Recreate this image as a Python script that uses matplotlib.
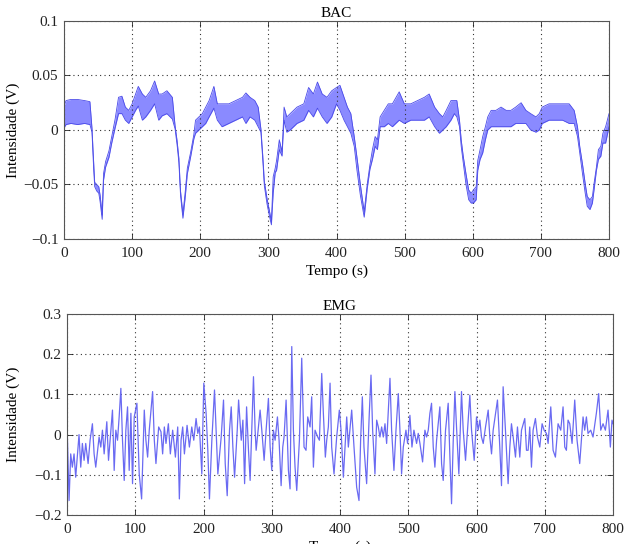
import matplotlib
matplotlib.use('Agg')
import matplotlib.pyplot as plt

plt.rcParams['font.family'] = ['Liberation Serif', 'DejaVu Serif']
plt.rcParams['axes.unicode_minus'] = True

# BAC signal: time, upper and lower edge of the fast oscillation band (V)
bac_t = [0, 3, 10, 20, 30, 38, 41, 43.5, 45, 48, 51, 53, 56, 58, 61, 66, 70, 75, 80, 85,
         90, 95, 100, 105, 109, 115, 120, 127, 133, 139, 144, 151, 159, 163, 166, 168.6, 171,
         174.5, 178, 181, 186, 190.6, 193, 198, 203, 208, 213, 220, 225, 232, 242, 252, 262,
         267, 273, 280, 285, 289, 292, 294, 298, 301.5, 304.4, 307, 310, 312, 316, 320, 321,
         323, 327, 332, 342, 352, 359, 366, 372, 379, 386, 393, 400, 405, 411, 416, 421, 426,
         430, 435, 440.6, 445, 449, 452.7, 456.7, 460, 464, 470, 476, 482, 492, 499.5, 509,
         519, 529, 536, 544, 551, 556, 561, 568, 573, 576.6, 580.5, 583, 586, 590, 594, 597.6,
         601, 605, 607.3, 610.7, 614.6, 618.5, 622, 627, 634, 641.5, 649, 656, 663, 671, 678,
         685, 692.7, 697.6, 702, 712, 722, 731.7, 741.5, 748.8, 753.7, 757, 761, 765, 768, 772,
         775.6, 778, 781.5, 784.4, 788, 791, 795, 800]
bac_hi = [0.022, 0.027, 0.028, 0.028, 0.027, 0.026, 0.002, -0.030, -0.048, -0.050, -0.052,
          -0.060, -0.078, -0.040, -0.029, -0.019, -0.006, 0.010, 0.030, 0.031, 0.021, 0.018,
          0.024, 0.033, 0.040, 0.033, 0.030, 0.036, 0.045, 0.033, 0.033, 0.036, 0.030, 0.004,
          -0.010, -0.026, -0.056, -0.077, -0.056, -0.035, -0.020, -0.004, 0.009, 0.012, 0.015,
          0.021, 0.027, 0.040, 0.024, 0.024, 0.024, 0.027, 0.030, 0.034, 0.030, 0.027, 0.021,
          0.001, -0.026, -0.047, -0.063, -0.074, -0.084, -0.043, -0.035, -0.028, -0.009, -0.020,
          -0.008, 0.021, 0.012, 0.015, 0.021, 0.024, 0.039, 0.033, 0.044, 0.033, 0.030, 0.036,
          0.039, 0.041, 0.030, 0.021, 0.015, -0.006, -0.025, -0.050, -0.075, -0.050, -0.032,
          -0.018, -0.006, -0.009, 0.012, 0.018, 0.024, 0.024, 0.035, 0.024, 0.024, 0.027, 0.030,
          0.033, 0.021, 0.015, 0.012, 0.018, 0.027, 0.027, 0.027, 0.009, -0.009, -0.024, -0.040,
          -0.055, -0.058, -0.055, -0.052, -0.028, -0.018, -0.006, 0.003, 0.012, 0.018, 0.018,
          0.021, 0.018, 0.018, 0.021, 0.025, 0.018, 0.015, 0.012, 0.015, 0.021, 0.024, 0.024,
          0.024, 0.024, 0.018, 0.003, -0.015, -0.031, -0.049, -0.061, -0.064, -0.061, -0.049,
          -0.034, -0.018, -0.015, -0.003, 0.003, 0.015]
bac_lo = [0.002, 0.005, 0.006, 0.005, 0.006, 0.005, -0.002, -0.036, -0.052, -0.056, -0.058,
          -0.066, -0.082, -0.046, -0.034, -0.025, -0.012, 0.002, 0.015, 0.015, 0.009, 0.006,
          0.012, 0.018, 0.022, 0.009, 0.012, 0.018, 0.024, 0.009, 0.013, 0.015, 0.010, 0.001,
          -0.014, -0.030, -0.060, -0.081, -0.061, -0.040, -0.024, -0.008, -0.003, 0.000, 0.003,
          0.006, 0.012, 0.020, 0.009, 0.003, 0.006, 0.009, 0.012, 0.006, 0.012, 0.009, 0.003,
          -0.002, -0.030, -0.051, -0.068, -0.079, -0.087, -0.058, -0.039, -0.037, -0.018, -0.024,
          -0.012, 0.009, -0.002, 0.000, 0.006, 0.009, 0.018, 0.012, 0.020, 0.012, 0.006, 0.012,
          0.024, 0.018, 0.009, 0.003, -0.003, -0.015, -0.037, -0.060, -0.080, -0.054, -0.036,
          -0.027, -0.015, -0.018, 0.003, 0.003, 0.006, 0.003, 0.009, 0.006, 0.009, 0.009, 0.009,
          0.012, 0.003, -0.003, 0.000, 0.003, 0.009, 0.015, 0.012, 0.003, -0.015, -0.030, -0.050,
          -0.064, -0.067, -0.067, -0.064, -0.037, -0.027, -0.021, -0.009, 0.000, 0.003, 0.003,
          0.003, 0.003, 0.003, 0.006, 0.006, 0.006, 0.000, -0.002, 0.000, 0.006, 0.009, 0.009,
          0.009, 0.006, 0.006, -0.006, -0.021, -0.040, -0.058, -0.070, -0.073, -0.067, -0.055,
          -0.037, -0.027, -0.024, -0.012, -0.012, 0.003]

# EMG signal: successive peaks and troughs (s, V)
emg_t = [0, 3, 5.4, 7.8, 10.3, 12.7, 17.6, 20.1, 22.5, 25, 27.4, 30.9, 33.8, 37.2, 39.7, 42.1,
         47, 49.5, 51.9, 54.4, 58.3, 60.8, 64.2, 66.6, 69.1, 71.5, 74, 76.4, 78.9, 81.3, 83.8,
         86.2, 88.7, 91.1, 93.6, 96, 98.5, 102.4, 105.8, 109.3, 113.2, 115.6, 118.1, 120.5,
         125.4, 127.9, 130.3, 134.3, 137.7, 140.1, 142.6, 145, 148.5, 151.4, 154.8, 158.8,
         162.2, 164.6, 167.1, 169.5, 172, 175.9, 179.3, 182.8, 185.7, 189.1, 191.6, 194, 197.5,
         200.4, 203.8, 206.3, 208.7, 212.2, 216.1, 218.5, 221, 225.9, 229.3, 231.8, 234.7,
         238.1, 240.6, 243, 245.5, 249.4, 251.4, 255.3, 257.7, 260.2, 263.1, 265.9, 268.3,
         270.7, 273.2, 275.6, 277.1, 280.5, 282.9, 285.4, 288.8, 291.7, 295.1, 297.6, 300,
         302.4, 304.9, 308.3, 310.7, 313.7, 316.1, 318, 321, 324.4, 326.8, 329.3, 331.7, 334.1,
         336.6, 340.5, 343.9, 347.3, 350.2, 352.7, 356.1, 358.5, 361, 363.4, 367.3, 369.8,
         373.2, 375.6, 378.5, 380.5, 382.9, 385.4, 387.8, 391.2, 395.1, 399, 401.5, 404.9,
         409.8, 412.2, 417.1, 420.5, 424.4, 427.8, 430.2, 432.7, 435.1, 439, 442.9, 445.4,
         447.8, 451.2, 453.7, 456.1, 458.5, 461, 463.4, 465.9, 468.3, 473.2, 475.6, 479, 482,
         485.4, 487.8, 490.2, 492.7, 496.6, 499, 502.4, 505.4, 508.3, 512.2, 514.6, 517.1, 521,
         524.4, 526.8, 529.3, 531.7, 534.1, 536.6, 539, 541.5, 543.9, 546.3, 548.8, 551.2,
         554.6, 558.5, 561, 563.4, 565.9, 568.3, 570.7, 574.1, 578, 580.5, 583.9, 586.8, 590.2,
         592.7, 596.6, 600, 602.4, 604.9, 607.3, 609.8, 613.2, 617.1, 619.5, 622, 624.4, 630.7,
         634.1, 636.6, 639, 642.4, 646.3, 648.8, 651.2, 653.7, 657.1, 660, 663.4, 665.9, 670.7,
         673.2, 675.6, 678, 680.5, 682.9, 686.3, 689.3, 692.7, 696.1, 699, 702.4, 704.9, 708.8,
         712.2, 715.6, 719.5, 723.4, 726.8, 729.3, 731.7, 734.1, 736.6, 740, 743.9, 747.3,
         751.2, 754.6, 756.1, 758.5, 761, 763.4, 767.3, 770.7, 775.6, 779, 782, 785.4, 788.8,
         792.7, 796.1, 798.5, 800]
emg_v = [0.027, -0.164, -0.048, -0.081, -0.048, -0.106, 0.0, -0.081, -0.022, -0.064, -0.022,
         -0.072, -0.014, 0.027, -0.048, -0.081, -0.006, -0.031, 0.011, -0.048, 0.032, -0.064,
         0.011, 0.061, -0.089, 0.011, -0.014, 0.044, 0.115, -0.014, -0.114, 0.011, 0.069,
         -0.089, 0.053, -0.122, 0.044, 0.078, -0.098, -0.16, 0.061, -0.014, -0.056, 0.011,
         0.107, -0.014, -0.072, 0.019, 0.007, -0.048, 0.019, -0.022, 0.027, -0.048, 0.011,
         -0.056, 0.019, -0.16, -0.014, 0.019, -0.048, 0.023, -0.031, 0.019, -0.014, 0.04,
         0.003, 0.019, -0.098, 0.128, 0.053, -0.039, -0.16, -0.014, 0.111, 0.011, -0.098,
         -0.006, 0.086, -0.072, -0.152, 0.011, 0.069, -0.031, -0.106, 0.011, 0.086, -0.014,
         0.036, -0.122, 0.069, -0.039, -0.114, 0.011, 0.144, 0.011, -0.039, 0.019, 0.061,
         0.011, -0.064, 0.011, 0.09, -0.031, -0.089, 0.011, -0.014, 0.044, -0.014, -0.127,
         -0.031, -0.006, 0.086, -0.089, -0.135, 0.219, 0.011, -0.081, -0.139, -0.014, 0.19,
         -0.031, -0.039, 0.044, 0.019, 0.094, -0.081, 0.011, -0.006, -0.014, 0.152, 0.053,
         -0.056, -0.014, 0.019, 0.128, -0.031, -0.098, -0.006, 0.061, 0.011, -0.106, 0.044,
         -0.031, 0.061, -0.031, -0.131, -0.164, -0.014, 0.094, -0.031, -0.122, 0.053, 0.148,
         0.011, -0.098, 0.036, 0.019, -0.006, 0.019, -0.006, 0.027, -0.022, 0.14, 0.011,
         -0.089, 0.011, 0.102, 0.011, -0.098, -0.031, 0.011, -0.022, 0.048, -0.031, 0.011,
         -0.022, 0.003, -0.022, -0.068, 0.011, -0.006, 0.011, 0.053, 0.078, -0.031, -0.081,
         -0.014, 0.027, 0.069, -0.072, -0.114, 0.011, 0.078, -0.056, -0.172, -0.014, 0.107,
         0.019, -0.098, 0.107, 0.011, -0.064, 0.011, 0.098, 0.011, -0.064, 0.044, 0.011, 0.036,
         -0.006, -0.022, 0.019, 0.061, -0.006, -0.048, 0.011, 0.086, -0.031, -0.127, 0.119,
         0.011, -0.122, -0.031, 0.027, -0.006, -0.056, 0.019, -0.056, 0.011, 0.04, -0.039,
         -0.039, 0.019, -0.081, 0.011, 0.04, -0.006, -0.031, 0.027, 0.011, 0.003, -0.022, 0.069,
         -0.039, -0.056, 0.027, 0.011, 0.069, -0.031, -0.039, 0.036, 0.027, -0.022, 0.086,
         -0.014, -0.072, 0.011, 0.044, 0.011, 0.044, 0.003, 0.011, -0.006, 0.053, 0.102, 0.011,
         0.027, 0.011, 0.061, -0.031, 0.036, 0.027]

x_ticks = [0, 100, 200, 300, 400, 500, 600, 700, 800]
bac_yticks = [-0.1, -0.05, 0, 0.05, 0.1]
bac_ylabels = ['\u22120.1', '\u22120.05', '0', '0.05', '0.1']
emg_yticks = [-0.2, -0.1, 0, 0.1, 0.2, 0.3]
emg_ylabels = ['\u22120.2', '\u22120.1', '0', '0.1', '0.2', '0.3']

fig = plt.figure(figsize=(6.24, 5.44), dpi=100)
ax1 = fig.add_axes([0.1026, 0.5607, 0.8734, 0.4007])
ax2 = fig.add_axes([0.1074, 0.0533, 0.875, 0.3695])


def style(ax, yticks, ylabels, ylim, title, ylab_x):
    ax.set_xlim(0, 800)
    ax.set_ylim(ylim)
    ax.set_xticks(x_ticks)
    ax.set_xticklabels([str(v) for v in x_ticks])
    ax.set_yticks(yticks)
    ax.set_yticklabels(ylabels)
    ax.tick_params(direction='in', top=True, right=True, labelsize=11,
                   length=4, width=0.6, colors='#222222')
    ax.tick_params(axis='x', pad=6)
    ax.tick_params(axis='y', pad=4)
    ax.grid(True, color='#333333', linestyle=(0, (1, 3)), linewidth=0.8)
    for s in ax.spines.values():
        s.set_color('#555555')
        s.set_linewidth(0.8)
    ax.set_title(title, fontsize=11, pad=3)
    ax.set_xlabel('Tempo (s)', fontsize=11, labelpad=3)
    ax.set_ylabel('Intensidade (V)', fontsize=11)
    ax.yaxis.set_label_coords(ylab_x, 0.5)


ax1.fill_between(bac_t, bac_lo, bac_hi, color='#8a8aff', linewidth=0)
ax1.plot(bac_t, bac_hi, color='#4a4ae8', linewidth=0.6)
ax1.plot(bac_t, bac_lo, color='#4a4ae8', linewidth=0.6)
style(ax1, bac_yticks, bac_ylabels, (-0.1, 0.1), 'BAC', -0.081)

ax2.plot(emg_t, emg_v, color='#6a6af2', linewidth=0.9)
style(ax2, emg_yticks, emg_ylabels, (-0.2, 0.3), 'EMG', -0.086)

fig.savefig('out.png', dpi=100)
